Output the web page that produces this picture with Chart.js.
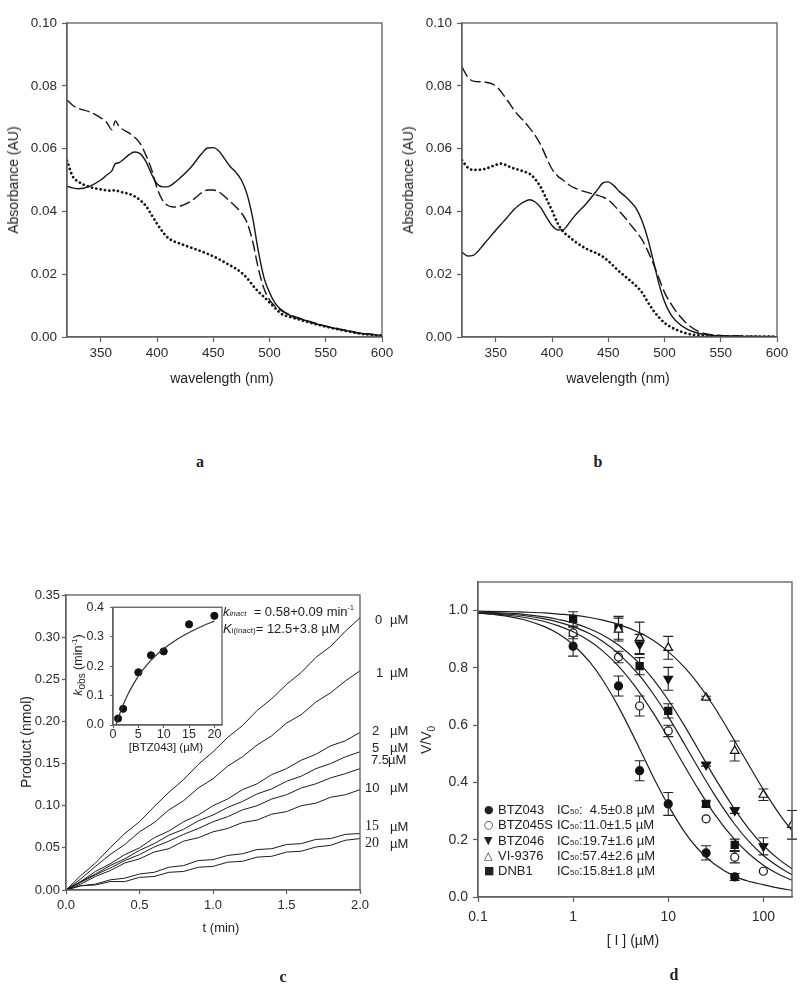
<!DOCTYPE html>
<html>
<head>
<meta charset="utf-8">
<title>Spectra and inhibition kinetics</title>
<script src="https://cdn.jsdelivr.net/npm/chart.js@4.4.1/dist/chart.umd.min.js"></script>
<style>
  body { margin: 0; background: #fff; }
  #page { position: relative; width: 800px; height: 990px; overflow: hidden;
          font-family: "Liberation Sans", Arial, sans-serif; color: #222; }
  .panel { position: absolute; }
  .t { position: absolute; white-space: pre; line-height: 1; transform: translate(0, -50%); }
  .c { transform: translate(-50%, -50%); }
  .v { transform: translate(-50%, -50%) rotate(-90deg); }
  .letter { font-family: "Liberation Serif", serif; font-weight: bold; font-size: 16px; }
  .serif { font-family: "Liberation Serif", serif; }
  .mk { font-family: "DejaVu Sans", sans-serif; font-size: 11px; }
  small { font-size: 8px; }
</style>
</head>
<body>
<div id="page">
  <div class="panel" style="left:0;top:0;width:400px;height:380px"><canvas id="spectraA"></canvas></div>
  <div class="panel" style="left:400px;top:0;width:400px;height:380px"><canvas id="spectraB"></canvas></div>
  <div class="panel" style="left:0;top:560px;width:400px;height:380px"><canvas id="progressC"></canvas></div>
  <div class="panel" style="left:60px;top:595px;width:170px;height:165px"><canvas id="insetC"></canvas></div>
  <div class="panel" style="left:400px;top:560px;width:400px;height:380px"><canvas id="doseD"></canvas></div>

  <!-- axis titles -->
  <div class="t v" style="left:13px;top:180px;font-size:14px">Absorbance (AU)</div>
  <div class="t c" style="left:222px;top:378px;font-size:14px">wavelength (nm)</div>
  <div class="t v" style="left:408px;top:180px;font-size:14px">Absorbance (AU)</div>
  <div class="t c" style="left:618px;top:378px;font-size:14px">wavelength (nm)</div>
  <div class="t v" style="left:26px;top:742px;font-size:14px">Product (nmol)</div>
  <div class="t c" style="left:221px;top:927px;font-size:13px">t (min)</div>
  <div class="t v" style="left:79px;top:665px;font-size:12.5px"><i>k</i><sub style="font-size:10px">obs</sub> (min<sup style="font-size:8px">-1</sup>)</div>
  <div class="t c" style="left:166px;top:748px;font-size:11.5px">[BTZ043] (µM)</div>
  <div class="t v" style="left:428px;top:740px;font-size:14px">V/V<sub style="font-size:10px">0</sub></div>
  <div class="t c" style="left:633px;top:940px;font-size:14px">[ I ] (µM)</div>

  <!-- panel letters -->
  <div class="t c letter" style="left:200px;top:462px">a</div>
  <div class="t c letter" style="left:598px;top:462px">b</div>
  <div class="t c letter" style="left:283px;top:977px">c</div>
  <div class="t c letter" style="left:674px;top:975px">d</div>

  <!-- inset fit parameters -->
  <div class="t" style="left:223px;top:611px;font-size:13px"><i>k</i><small><i>inact</i></small>  = 0.58+0.09 min<sup style="font-size:7px">-1</sup></div>
  <div class="t" style="left:223px;top:628px;font-size:13px"><i>K</i><small>i(inact)</small>= 12.5+3.8 µM</div>

  <!-- concentration labels, panel c -->
  <div class="t" style="left:375px;top:619px;font-size:13px">0</div><div class="t" style="left:390px;top:619px;font-size:13px">µM</div>
  <div class="t" style="left:376px;top:672px;font-size:13px">1</div><div class="t" style="left:390px;top:672px;font-size:13px">µM</div>
  <div class="t" style="left:372px;top:730px;font-size:13px">2</div><div class="t" style="left:390px;top:730px;font-size:13px">µM</div>
  <div class="t" style="left:372px;top:747px;font-size:13px">5</div><div class="t" style="left:390px;top:747px;font-size:13px">µM</div>
  <div class="t" style="left:371px;top:759px;font-size:13px">7.5</div><div class="t" style="left:388px;top:759px;font-size:13px">µM</div>
  <div class="t" style="left:365px;top:787px;font-size:13px">10</div><div class="t" style="left:390px;top:787px;font-size:13px">µM</div>
  <div class="t serif" style="left:365px;top:826px;font-size:14px">15</div><div class="t" style="left:390px;top:826px;font-size:13px">µM</div>
  <div class="t serif" style="left:365px;top:843px;font-size:14px">20</div><div class="t" style="left:390px;top:843px;font-size:13px">µM</div>

  <!-- legend, panel d -->
  <div class="t mk" style="left:484px;top:809px">●</div><div class="t" style="left:498px;top:809px;font-size:13px">BTZ043</div><div class="t" style="left:557px;top:809px;font-size:13px">IC<small>50</small>:  4.5±0.8 µM</div>
  <div class="t mk" style="left:484px;top:824px">○</div><div class="t" style="left:498px;top:824px;font-size:13px">BTZ045S</div><div class="t" style="left:557px;top:824px;font-size:13px">IC<small>50</small>:11.0±1.5 µM</div>
  <div class="t mk" style="left:484px;top:840px">▼</div><div class="t" style="left:498px;top:840px;font-size:13px">BTZ046</div><div class="t" style="left:557px;top:840px;font-size:13px">IC<small>50</small>:19.7±1.6 µM</div>
  <div class="t mk" style="left:484px;top:855px">△</div><div class="t" style="left:498px;top:855px;font-size:13px">VI-9376</div><div class="t" style="left:557px;top:855px;font-size:13px">IC<small>50</small>:57.4±2.6 µM</div>
  <div class="t mk" style="left:484px;top:870px">■</div><div class="t" style="left:498px;top:870px;font-size:13px">DNB1</div><div class="t" style="left:557px;top:870px;font-size:13px">IC<small>50</small>:15.8±1.8 µM</div>
</div>

<script>
// panels a and b: absorbance spectra
const wavelengths = [320, 325, 330, 340, 350, 355, 360, 363, 366, 370, 375, 380, 385, 390, 395, 400, 405, 410, 415, 420,
  430, 440, 445, 450, 455, 460, 465, 470, 475, 480, 485, 490, 495, 500, 505, 510,
  520, 530, 540, 550, 560, 570, 580, 590, 600];

const absSolidA = [0.048, 0.0475, 0.0472, 0.048, 0.050, 0.0515, 0.053, 0.0552, 0.0555, 0.0565, 0.058, 0.0589, 0.0584, 0.056, 0.052, 0.0488, 0.0478, 0.0479, 0.049, 0.0505,
  0.054, 0.0585, 0.0602, 0.0603, 0.0592, 0.0568, 0.0543, 0.0525, 0.050, 0.0455, 0.038, 0.0275, 0.019, 0.0142, 0.0108, 0.0088,
  0.0066, 0.0055, 0.0043, 0.0034, 0.0026, 0.0019, 0.0012, 0.0008, 0.0005];
const absDashedA = [0.0755, 0.0738, 0.0728, 0.0717, 0.0698, 0.0685, 0.066, 0.0688, 0.0672, 0.066, 0.065, 0.0636, 0.0617, 0.058, 0.0535, 0.0475, 0.0435, 0.0418, 0.0414, 0.0416,
  0.0432, 0.046, 0.0468, 0.0468, 0.0462, 0.0448, 0.0432, 0.0415, 0.0395, 0.0365, 0.0305, 0.022, 0.0155, 0.0118, 0.0098, 0.0085,
  0.0068, 0.0056, 0.0045, 0.0035, 0.0027, 0.0020, 0.0013, 0.0009, 0.0006];
const absDottedA = [0.0562, 0.0512, 0.0495, 0.0478, 0.047, 0.0467, 0.0466, 0.0468, 0.0464, 0.046, 0.0456, 0.0448, 0.0436, 0.0418, 0.039, 0.0361, 0.0335, 0.0315, 0.0305, 0.0298,
  0.0285, 0.0272, 0.0265, 0.0257, 0.0248, 0.0238, 0.0228, 0.0218, 0.0205, 0.0188, 0.0165, 0.0145, 0.0128, 0.011, 0.0092, 0.0075,
  0.0062, 0.0052, 0.0042, 0.0033, 0.0025, 0.0018, 0.0011, 0.0007, 0.0004];

const absSolidB = [0.0270, 0.0258, 0.0260, 0.0298, 0.0340, 0.0360, 0.0380, 0.0393, 0.0405, 0.0418, 0.0430, 0.0437, 0.0430, 0.0412, 0.0382, 0.0355, 0.0341, 0.0342, 0.0362, 0.0385,
  0.0423, 0.0467, 0.0490, 0.0494, 0.0482, 0.0463, 0.0448, 0.0430, 0.0408, 0.0370, 0.0315, 0.0244, 0.0170, 0.0113, 0.0075, 0.0052,
  0.0025, 0.0012, 0.0006, 0.0004, 0.0003, 0.0002, 0.0002, 0.0001, 0.0001];
const absDashedB = [0.0860, 0.0828, 0.0815, 0.0812, 0.0800, 0.0780, 0.0755, 0.0740, 0.0724, 0.0706, 0.0688, 0.0666, 0.0642, 0.0612, 0.0572, 0.0535, 0.0513, 0.0499, 0.0485, 0.0475,
  0.0462, 0.0452, 0.0446, 0.0437, 0.0420, 0.0400, 0.0380, 0.0357, 0.0335, 0.0310, 0.0275, 0.0234, 0.0188, 0.0142, 0.0110, 0.0083,
  0.0042, 0.0018, 0.0008, 0.0005, 0.0004, 0.0003, 0.0002, 0.0002, 0.0001];
const absDottedB = [0.0563, 0.0540, 0.0532, 0.0535, 0.0548, 0.0552, 0.0546, 0.0541, 0.0537, 0.0533, 0.0527, 0.0520, 0.0503, 0.0477, 0.0440, 0.0403, 0.0362, 0.0335, 0.0320, 0.0305,
  0.0282, 0.0266, 0.0256, 0.0242, 0.0225, 0.0208, 0.0193, 0.0178, 0.0162, 0.0142, 0.0112, 0.0085, 0.0063, 0.0045, 0.0033, 0.0024,
  0.0011, 0.0005, 0.0003, 0.0002, 0.0001, 0.0001, 0.0001, 0.0001, 0.0001];

// panel c: progress curves (nmol product vs min) for each BTZ043 concentration
const timeMin = [0, 0.1, 0.2, 0.3, 0.4, 0.5, 0.6, 0.7, 0.8, 0.9, 1.0, 1.1, 1.2, 1.3, 1.4, 1.5, 1.6, 1.7, 1.8, 1.9, 2.0];
const product0uM = [0.000, 0.017, 0.032, 0.050, 0.067, 0.081, 0.099, 0.116, 0.131, 0.149, 0.164, 0.181, 0.195, 0.213, 0.227, 0.244, 0.258, 0.276, 0.289, 0.307, 0.323];
const product1uM = [0.000, 0.013, 0.028, 0.042, 0.054, 0.069, 0.080, 0.095, 0.106, 0.121, 0.132, 0.147, 0.158, 0.172, 0.183, 0.198, 0.208, 0.223, 0.234, 0.248, 0.260];
const product2uM = [0.000, 0.010, 0.022, 0.031, 0.042, 0.050, 0.062, 0.070, 0.081, 0.089, 0.100, 0.108, 0.119, 0.126, 0.137, 0.144, 0.154, 0.161, 0.171, 0.177, 0.187];
const product5uM = [0.000, 0.010, 0.019, 0.029, 0.037, 0.047, 0.055, 0.065, 0.072, 0.082, 0.089, 0.098, 0.105, 0.114, 0.120, 0.129, 0.135, 0.144, 0.150, 0.158, 0.164];
const product7_5uM = [0.000, 0.009, 0.018, 0.026, 0.035, 0.042, 0.051, 0.058, 0.066, 0.073, 0.081, 0.087, 0.095, 0.100, 0.108, 0.113, 0.121, 0.126, 0.133, 0.138, 0.144];
const product10uM = [0.000, 0.007, 0.016, 0.023, 0.032, 0.037, 0.045, 0.049, 0.058, 0.062, 0.069, 0.073, 0.080, 0.083, 0.090, 0.093, 0.100, 0.103, 0.110, 0.113, 0.119];
const product15uM = [0.000, 0.005, 0.007, 0.012, 0.014, 0.019, 0.021, 0.027, 0.029, 0.035, 0.036, 0.041, 0.043, 0.048, 0.049, 0.054, 0.055, 0.060, 0.061, 0.066, 0.067];
const product20uM = [0.000, 0.005, 0.006, 0.010, 0.010, 0.015, 0.016, 0.021, 0.022, 0.027, 0.028, 0.033, 0.034, 0.039, 0.040, 0.045, 0.046, 0.051, 0.053, 0.059, 0.061];

// inset: kobs vs [BTZ043]
const kobsConc = [1, 2, 5, 7.5, 10, 15, 20];
const kobsValue = [0.022, 0.055, 0.179, 0.237, 0.250, 0.342, 0.371];
const kobsFitConc = [0.6, 1, 2, 3, 4, 5, 6, 8, 10, 12, 14, 16, 18, 20];
const kobsFitValue = [0.000, 0.022, 0.068, 0.106, 0.138, 0.166, 0.190, 0.229, 0.259, 0.284, 0.305, 0.323, 0.339, 0.353];

// panel d: residual activity vs inhibitor
const btz043Conc = [1, 3, 5, 10, 25, 50];
const btz043Ratio = [0.876, 0.737, 0.441, 0.325, 0.154, 0.070];
const btz043Err = [0.035, 0.035, 0.035, 0.04, 0.025, 0.012];
const btz045sConc = [1, 3, 5, 10, 25, 50, 100];
const btz045sRatio = [0.922, 0.838, 0.667, 0.580, 0.273, 0.139, 0.090];
const btz045sErr = [0.02, 0.02, 0.035, 0.02, 0, 0.02, 0];
const btz046Conc = [5, 10, 25, 50, 100];
const btz046Ratio = [0.882, 0.762, 0.462, 0.302, 0.177];
const btz046Err = [0.035, 0.04, 0.005, 0.01, 0.03];
const vi9376Conc = [3, 5, 10, 25, 50, 100, 200];
const vi9376Ratio = [0.934, 0.905, 0.870, 0.696, 0.510, 0.357, 0.252];
const vi9376Err = [0.04, 0.055, 0.04, 0.005, 0.035, 0.02, 0.05];
const dnb1Conc = [1, 3, 5, 10, 25, 50];
const dnb1Ratio = [0.971, 0.940, 0.806, 0.650, 0.325, 0.182];
const dnb1Err = [0.025, 0.04, 0.03, 0.025, 0.01, 0.02];

const fitConc = [0.1, 0.2, 0.3, 0.5, 0.7, 1, 1.5, 2, 3, 5, 7, 10, 15, 20, 30, 50, 70, 100, 150, 200];
const fitBtz043 = [0.992, 0.981, 0.969, 0.944, 0.919, 0.881, 0.820, 0.763, 0.664, 0.518, 0.417, 0.320, 0.225, 0.172, 0.117, 0.072, 0.055, 0.043, 0.030, 0.023];
const fitBtz045s = [0.992, 0.984, 0.977, 0.962, 0.947, 0.926, 0.893, 0.862, 0.806, 0.714, 0.641, 0.556, 0.455, 0.385, 0.294, 0.200, 0.152, 0.111, 0.077, 0.059];
const fitDnb1 = [0.994, 0.988, 0.983, 0.971, 0.960, 0.944, 0.919, 0.895, 0.850, 0.773, 0.708, 0.630, 0.531, 0.459, 0.362, 0.254, 0.195, 0.145, 0.102, 0.078];
const fitBtz046 = [0.995, 0.991, 0.987, 0.978, 0.969, 0.957, 0.936, 0.917, 0.880, 0.815, 0.759, 0.688, 0.595, 0.524, 0.423, 0.306, 0.239, 0.180, 0.128, 0.099];
const fitVi9376 = [0.998, 0.997, 0.995, 0.992, 0.988, 0.984, 0.976, 0.968, 0.952, 0.923, 0.896, 0.857, 0.800, 0.750, 0.667, 0.545, 0.462, 0.375, 0.286, 0.231];

const fontFamily = "'Liberation Sans', Arial, sans-serif";
const axisColor = "#5f5f5f";

function pairs(xs, ys) {
  return xs.map((x, i) => ({ x: x, y: ys[i] }));
}

function axis(o) {
  return {
    type: o.type || "linear",
    min: o.min,
    max: o.max,
    afterBuildTicks: (s) => { s.ticks = o.ticks.map((v) => ({ value: v })); },
    afterFit: (s) => {
      if (o.width) s.width = o.width;
      if (o.height) s.height = o.height;
    },
    border: { display: true, color: axisColor, width: 1.3 },
    grid: { drawOnChartArea: false, drawTicks: true, tickLength: o.tick, tickColor: axisColor, tickWidth: 1.2 },
    ticks: {
      color: "#2b2b2b",
      padding: o.pad,
      autoSkip: false,
      maxRotation: 0,
      font: { family: fontFamily, size: o.size, lineHeight: 1 },
      callback: (v) => o.fmt(v),
    },
  };
}

// draws the closed box around the plot area
const framePlugin = {
  id: "frame",
  afterDraw(chart) {
    const a = chart.chartArea, ctx = chart.ctx;
    ctx.save();
    ctx.strokeStyle = axisColor;
    ctx.lineWidth = 1.3;
    ctx.strokeRect(a.left, a.top, a.right - a.left, a.bottom - a.top);
    ctx.restore();
  },
};

const errorBarPlugin = {
  id: "errorBars",
  beforeDatasetsDraw(chart) {
    const ctx = chart.ctx, y = chart.scales.y;
    ctx.save();
    ctx.strokeStyle = "#222";
    ctx.lineWidth = 1.1;
    chart.data.datasets.forEach((ds, i) => {
      if (!ds.errors) return;
      chart.getDatasetMeta(i).data.forEach((pt, j) => {
        const e = ds.errors[j];
        if (!e) return;
        const v = ds.data[j].y;
        const top = y.getPixelForValue(v + e), bot = y.getPixelForValue(v - e);
        ctx.beginPath();
        ctx.moveTo(pt.x, top); ctx.lineTo(pt.x, bot);
        ctx.moveTo(pt.x - 5, top); ctx.lineTo(pt.x + 5, top);
        ctx.moveTo(pt.x - 5, bot); ctx.lineTo(pt.x + 5, bot);
        ctx.stroke();
      });
    });
    ctx.restore();
  },
};

const baseOptions = {
  responsive: true,
  maintainAspectRatio: false,
  animation: false,
  events: [],
  plugins: { legend: { display: false }, tooltip: { enabled: false } },
};

function lineSet(xs, ys, style) {
  const ds = {
    data: pairs(xs, ys),
    showLine: true,
    pointRadius: 0,
    borderColor: "#161616",
    borderWidth: 1.4,
    cubicInterpolationMode: "monotone",
  };
  if (style === "dashed") ds.borderDash = [11, 4];
  if (style === "dotted") {
    ds.borderDash = [0.1, 4.3];
    ds.borderWidth = 2.7;
    ds.borderCapStyle = "round";
  }
  return ds;
}

function createSpectrum(canvasId, solid, dashed, dotted, yWidth, padRight) {
  new Chart(document.getElementById(canvasId), {
    type: "scatter",
    data: {
      datasets: [
        lineSet(wavelengths, solid, "solid"),
        lineSet(wavelengths, dashed, "dashed"),
        lineSet(wavelengths, dotted, "dotted"),
      ],
    },
    options: Object.assign({}, baseOptions, {
      layout: { padding: { top: 23, right: padRight, left: 0, bottom: 0 } },
      scales: {
        x: axis({ min: 320, max: 600, ticks: [350, 400, 450, 500, 550, 600], height: 43, tick: 5, pad: 5, size: 13.5, fmt: (v) => String(v) }),
        y: axis({ min: 0, max: 0.1, ticks: [0, 0.02, 0.04, 0.06, 0.08, 0.1], width: yWidth, tick: 5, pad: 5, size: 13.5, fmt: (v) => v.toFixed(2) }),
      },
    }),
    plugins: [framePlugin],
  });
}

document.addEventListener("DOMContentLoaded", function () {
  createSpectrum("spectraA", absSolidA, absDashedA, absDottedA, 67, 18);
  createSpectrum("spectraB", absSolidB, absDashedB, absDottedB, 62, 23);

  const traces = [product0uM, product1uM, product2uM, product5uM, product7_5uM, product10uM, product15uM, product20uM];
  new Chart(document.getElementById("progressC"), {
    type: "scatter",
    data: {
      datasets: traces.map((tr) => ({
        data: pairs(timeMin, tr),
        showLine: true,
        pointRadius: 0,
        borderColor: "#1c1c1c",
        borderWidth: 1,
        tension: 0,
      })),
    },
    options: Object.assign({}, baseOptions, {
      layout: { padding: { top: 35, right: 40, left: 0, bottom: 0 } },
      scales: {
        x: axis({ min: 0, max: 2, ticks: [0, 0.5, 1, 1.5, 2], height: 50, tick: 4, pad: 5, size: 13, fmt: (v) => v.toFixed(1) }),
        y: axis({ min: 0, max: 0.35, ticks: [0, 0.05, 0.1, 0.15, 0.2, 0.25, 0.3, 0.35], width: 66, tick: 4, pad: 2, size: 13, fmt: (v) => v.toFixed(2) }),
      },
    }),
    plugins: [framePlugin],
  });

  new Chart(document.getElementById("insetC"), {
    type: "scatter",
    data: {
      datasets: [
        {
          data: pairs(kobsFitConc, kobsFitValue),
          showLine: true,
          pointRadius: 0,
          borderColor: "#333",
          borderWidth: 1.2,
          cubicInterpolationMode: "monotone",
        },
        {
          data: pairs(kobsConc, kobsValue),
          pointRadius: 3.6,
          pointStyle: "circle",
          backgroundColor: "#111",
          borderColor: "#111",
        },
      ],
    },
    options: Object.assign({}, baseOptions, {
      layout: { padding: { top: 9, right: 8, left: 0, bottom: 0 } },
      scales: {
        x: axis({ min: 0, max: 21.5, ticks: [0, 5, 10, 15, 20], height: 35, tick: 3, pad: 0, size: 12.5, fmt: (v) => String(v) }),
        y: axis({ min: 0, max: 0.4, ticks: [0, 0.1, 0.2, 0.3, 0.4], width: 53, tick: 3, pad: 6, size: 12.5, fmt: (v) => v.toFixed(1) }),
      },
    }),
    plugins: [framePlugin],
  });

  const fitLine = (ys) => ({
    data: pairs(fitConc, ys),
    showLine: true,
    pointRadius: 0,
    borderColor: "#1e1e1e",
    borderWidth: 1.2,
    cubicInterpolationMode: "monotone",
  });
  const markers = (xs, ys, errs, style, filled, radius, rotation) => ({
    data: pairs(xs, ys),
    errors: errs,
    pointStyle: style,
    pointRadius: radius,
    rotation: rotation || 0,
    backgroundColor: filled ? "#111" : "#fff",
    borderColor: "#111",
    borderWidth: 1.2,
  });

  new Chart(document.getElementById("doseD"), {
    type: "scatter",
    data: {
      datasets: [
        fitLine(fitBtz043),
        fitLine(fitBtz045s),
        fitLine(fitDnb1),
        fitLine(fitBtz046),
        fitLine(fitVi9376),
        markers(btz043Conc, btz043Ratio, btz043Err, "circle", true, 4),
        markers(btz045sConc, btz045sRatio, btz045sErr, "circle", false, 4),
        markers(btz046Conc, btz046Ratio, btz046Err, "triangle", true, 5, 180),
        markers(vi9376Conc, vi9376Ratio, vi9376Err, "triangle", false, 5),
        markers(dnb1Conc, dnb1Ratio, dnb1Err, "rect", true, 5),
      ],
    },
    options: Object.assign({}, baseOptions, {
      layout: { padding: { top: 22, right: 8, left: 0, bottom: 0 } },
      scales: {
        x: axis({ type: "logarithmic", min: 0.1, max: 200, ticks: [0.1, 1, 10, 100], height: 43, tick: 5, pad: 8, size: 14, fmt: (v) => String(v) }),
        y: axis({ min: 0, max: 1.1, ticks: [0, 0.2, 0.4, 0.6, 0.8, 1.0], width: 78, tick: 5, pad: 5, size: 14, fmt: (v) => v.toFixed(1) }),
      },
    }),
    plugins: [framePlugin, errorBarPlugin],
  });
});
</script>
</body>
</html>
